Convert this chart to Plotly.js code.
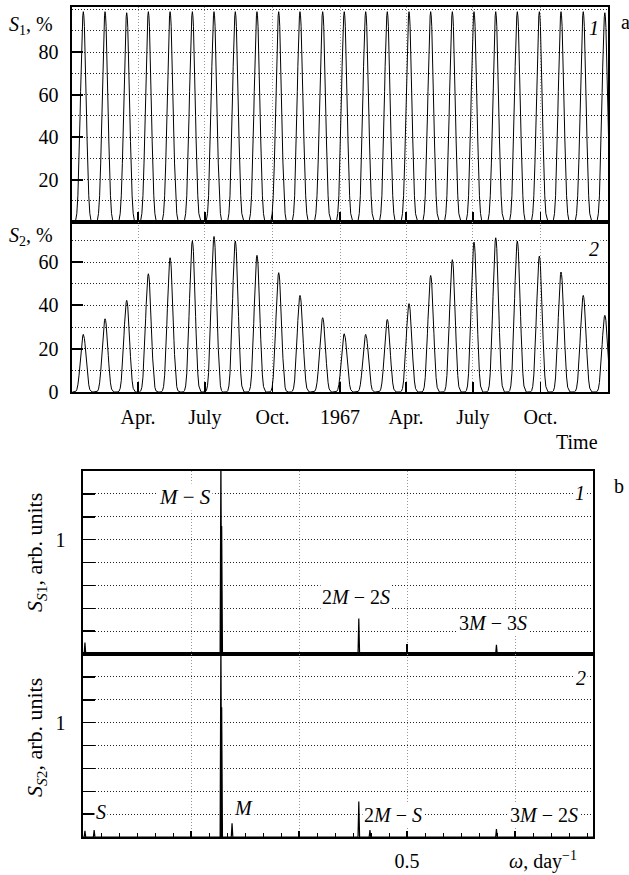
<!DOCTYPE html>
<html><head><meta charset="utf-8">
<script src="https://cdn.plot.ly/plotly-3.0.1.min.js"></script>
<style>html,body{margin:0;padding:0;background:#fff}#chart{width:629px;height:875px}</style>
</head><body><div id="chart"></div>
<script>
// ---------------- data ----------------
const peakDates = ['1966-01-16 10:00','1966-02-15 00:00','1966-03-16 12:00','1966-04-15 00:00','1966-05-14 14:00',
  '1966-06-13 22:00','1966-07-13 10:00','1966-08-11 10:00','1966-09-09 22:00','1966-10-09 12:00','1966-11-07 12:00',
  '1966-12-08 10:00','1967-01-06 19:00','1967-02-05 00:00','1967-03-06 10:00','1967-04-05 00:00','1967-05-04 12:00',
  '1967-06-03 00:00','1967-07-02 12:00','1967-08-01 02:00','1967-08-30 12:00','1967-09-29 12:00','1967-10-29 00:00',
  '1967-11-28 07:00','1967-12-27 17:00'];
const s1Peaks = [99,99,98.5,99,99,99,99,99,99,99,99,99,99,99,99,99,99,99,99,99,99,99,99,99,98.5];
const s2Peaks = [26.6,33.8,42.3,54.6,62.0,69.7,71.8,69.7,63.1,55.1,44.6,34.3,26.9,26.6,33.5,40.8,53.8,61.1,69.2,71.2,69.7,62.8,55.4,44.6,35.4];
// shape of one cycle: offset from the peak (in cycles) -> fraction of the peak value
const cyclePhase = [0,0.025,0.05,0.075,0.1,0.125,0.15,0.175,0.2,0.25,0.3,0.35,0.4,0.45,0.5];
const cycleShape = [1,0.98,0.93,0.845,0.74,0.62,0.5,0.385,0.28,0.125,0.04,0.01,0.001,0,0];

const timeTickVals = ['1966-01-01','1966-04-01','1966-07-01','1966-10-01','1967-01-01','1967-04-01','1967-07-01','1967-10-01','1968-01-01'];
const timeTickText = ['','Apr.','July','Oct.','1967','Apr.','July','Oct.',''];

const spec1Freq = [0.003,0.2128,0.2140,0.4256,0.638];
const spec1Amp  = [0.10,1.75,1.12,0.31,0.08];
const spec2Freq = [0.003,0.0172,0.2128,0.2140,0.2300,0.4256,0.4428,0.638];
const spec2Amp  = [0.055,0.06,1.75,1.135,0.12,0.31,0.06,0.07];
const specLabels1 = ['<i>M</i> − <i>S</i>','2<i>M</i> − 2<i>S</i>','3<i>M</i> − 3<i>S</i>'];
const specLabels2 = ['<i>S</i>','<i>M</i>','2<i>M</i> − <i>S</i>','3<i>M</i> − 2<i>S</i>'];

// ---------------- build traces ----------------
function toMs(s){ return Date.parse(s.replace(' ','T')+':00Z'); }
function fmt(ms){ return new Date(ms).toISOString().replace('T',' ').replace('Z',''); }
function buildCycles(peaks){
  const t = peakDates.map(toMs), xs=[], ys=[], n=t.length, m=cyclePhase.length;
  for(let i=0;i<n;i++){
    const Tl = i>0 ? t[i]-t[i-1] : t[1]-t[0];
    const Tr = i<n-1 ? t[i+1]-t[i] : t[n-1]-t[n-2];
    for(let k=m-1;k>=1;k--){ xs.push(fmt(t[i]-cyclePhase[k]*Tl)); ys.push(peaks[i]*cycleShape[k]); }
    xs.push(fmt(t[i])); ys.push(peaks[i]);
    const last = (i<n-1) ? m-1 : m;
    for(let k=1;k<last;k++){ xs.push(fmt(t[i]+cyclePhase[k]*Tr)); ys.push(peaks[i]*cycleShape[k]); }
  }
  return {x:xs,y:ys};
}
function buildSpikes(freq, amp){
  const xs=[0], ys=[0], d=0.0012;
  for(let i=0;i<freq.length;i++){ xs.push(freq[i]-d, freq[i], freq[i]+d); ys.push(0, amp[i], 0); }
  xs.push(0.787); ys.push(0);
  return {x:xs,y:ys};
}
const c1 = buildCycles(s1Peaks), c2 = buildCycles(s2Peaks);
const sp1 = buildSpikes(spec1Freq, spec1Amp), sp2 = buildSpikes(spec2Freq, spec2Amp);
const ln = {color:'#000', width:1};
const traces = [
  {x:c1.x, y:c1.y, xaxis:'x', yaxis:'y', mode:'lines', line:ln, hoverinfo:'skip'},
  {x:c2.x, y:c2.y, xaxis:'x2', yaxis:'y2', mode:'lines', line:ln, hoverinfo:'skip'},
  {x:sp1.x, y:sp1.y, xaxis:'x3', yaxis:'y3', mode:'lines', line:{color:'#000', width:1.2}, hoverinfo:'skip'},
  {x:sp2.x, y:sp2.y, xaxis:'x4', yaxis:'y4', mode:'lines', line:{color:'#000', width:1.2}, hoverinfo:'skip'}
];

// ---------------- layout ----------------
const W=629, H=875;
const px = v => v/W, py = v => 1 - v/H;
const FONT = 'Liberation Serif';
const hGrid = {showgrid:true, gridcolor:'#222', gridwidth:1, griddash:'1px,2px'};
const vGrid = {showgrid:true, gridcolor:'#999', gridwidth:1, griddash:'1px,2px'};
const frame = {showline:true, mirror:true, linecolor:'#000', linewidth:1.6, zeroline:false};
const TF = {family:FONT, size:20, color:'#000'};

const timeAxisBase = Object.assign({type:'date', range:['1966-01-01','1968-01-01'], domain:[px(72),px(608)],
  tickmode:'array', tickvals:timeTickVals, ticks:'inside', ticklen:10, tickwidth:1.5, tickcolor:'#000'}, vGrid, frame);
const specAxisBase = Object.assign({range:[0,0.787], domain:[px(83),px(593)]}, frame);

const layout = {
  width:W, height:H, margin:{l:0,r:0,t:0,b:0}, paper_bgcolor:'#fff', plot_bgcolor:'#fff', showlegend:false,
  font:{family:FONT, size:20, color:'#000'},
  xaxis: Object.assign({}, timeAxisBase, {anchor:'y', showticklabels:false}),
  yaxis: Object.assign({domain:[py(222),py(7)], anchor:'x', range:[0,101.2], tickmode:'array', tickvals:[20,40,60,80],
    ticks:'inside', ticklen:11, tickwidth:2, tickcolor:'#000', ticklabelstandoff:8, tickfont:TF,
    minor:Object.assign({tick0:0, dtick:10, ticks:''}, hGrid)}, hGrid, frame),
  xaxis2: Object.assign({}, timeAxisBase, {anchor:'y2', matches:'x', ticktext:timeTickText, showticklabels:true,
    ticklabelstandoff:6, tickfont:TF}),
  yaxis2: Object.assign({domain:[py(392),py(222)], anchor:'x2', range:[0,78.5], tickmode:'array', tickvals:[0,20,40,60],
    ticks:'inside', ticklen:11, tickwidth:2, tickcolor:'#000', ticklabelstandoff:8, tickfont:TF,
    minor:Object.assign({tick0:0, dtick:10, ticks:''}, hGrid)}, hGrid, frame),
  xaxis3: Object.assign({}, specAxisBase, {anchor:'y3', tickmode:'array', tickvals:[0.5], showticklabels:false,
    ticks:'inside', ticklen:10, tickwidth:1.5, tickcolor:'#000', showgrid:false,
    minor:Object.assign({tick0:0, dtick:1/6, ticks:''}, vGrid)}),
  xaxis4: Object.assign({}, specAxisBase, {anchor:'y4', matches:'x3', tickmode:'array', tickvals:[1/6,1/3,0.5,2/3],
    ticktext:['','','0.5',''], ticks:'inside', ticklen:6, tickwidth:1.5, tickcolor:'#000', ticklabelstandoff:5, tickfont:TF,
    minor:{tick0:0, dtick:1/36, ticks:'inside', ticklen:4, tickwidth:1, tickcolor:'#000', showgrid:false}}, vGrid),
  yaxis3: Object.assign({domain:[py(654),py(471)], anchor:'x3', range:[0,1.6], tickmode:'array',
    tickvals:[0.2,0.4,0.6,0.8,1.0,1.2,1.4], ticktext:['','','','','1','',''], tickfont:TF,
    ticks:'inside', ticklen:12, tickwidth:1.5, tickcolor:'#000', ticklabelstandoff:12}, hGrid, frame),
  yaxis4: Object.assign({domain:[py(837),py(654)], anchor:'x4', range:[0,1.6], tickmode:'array',
    tickvals:[0.2,0.4,0.6,0.8,1.0,1.2,1.4], ticktext:['','','','','1','',''], tickfont:TF,
    ticks:'inside', ticklen:12, tickwidth:1.5, tickcolor:'#000', ticklabelstandoff:12}, hGrid, frame),
  annotations:[]
};

function ann(text, x, y, size, opts){
  return Object.assign({text:text, xref:'paper', yref:'paper', x:px(x), y:py(y), showarrow:false,
    xanchor:'center', yanchor:'middle', font:{family:FONT, size:size, color:'#000'}}, opts||{});
}
const A = layout.annotations;
A.push(ann('<i>S</i><sub>1</sub>, %', 7, 25, 20, {xanchor:'left'}));
A.push(ann('<i>S</i><sub>2</sub>, %', 7, 236, 20, {xanchor:'left'}));
A.push(ann('<i>1</i>', 594, 28, 20, {bgcolor:'#fff'}));
A.push(ann('<i>2</i>', 594, 249, 20, {bgcolor:'#fff'}));
A.push(ann('a', 625, 22, 20));
A.push(ann('Time', 577, 442, 20));
A.push(ann('b', 619, 486, 20));
A.push(ann('<i>1</i>', 580, 493, 20, {bgcolor:'#fff'}));
A.push(ann('<i>2</i>', 581, 678, 20, {bgcolor:'#fff'}));
A.push(ann('<i>S</i><sub><i>S</i>1</sub>, arb. units', 36, 553, 22, {textangle:-90}));
A.push(ann('<i>S</i><sub><i>S</i>2</sub>, arb. units', 36, 738, 22, {textangle:-90}));
A.push(ann('<i>ω</i>, day<sup>−1</sup>', 543, 860, 20));
// spectral line labels
A.push(ann(specLabels1[0], 213, 497, 21, {xanchor:'right', bgcolor:'#fff'}));
A.push(ann(specLabels1[1], 356, 597, 20, {bgcolor:'#fff'}));
A.push(ann(specLabels1[2], 493, 623, 20, {bgcolor:'#fff'}));
A.push(ann(specLabels2[0], 101, 812, 20, {bgcolor:'#fff'}));
A.push(ann(specLabels2[1], 243, 808, 20, {bgcolor:'#fff'}));
A.push(ann(specLabels2[2], 362, 815, 20, {xanchor:'left', bgcolor:'#fff'}));
A.push(ann(specLabels2[3], 544, 815, 20, {bgcolor:'#fff'}));

Plotly.newPlot('chart', traces, layout, {staticPlot:true, displayModeBar:false});
</script>
</body></html>
